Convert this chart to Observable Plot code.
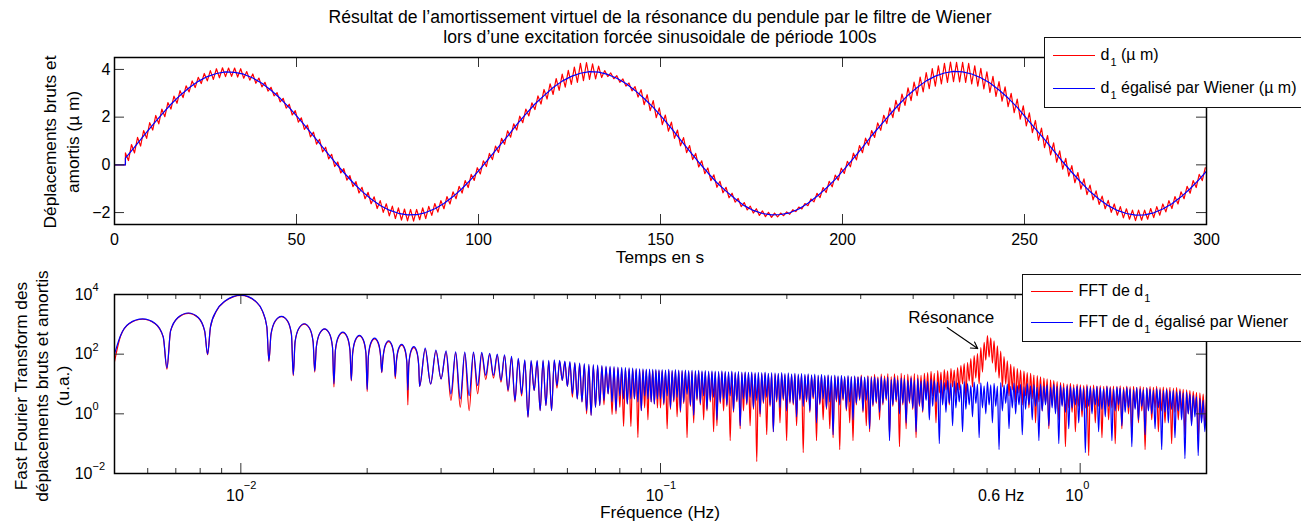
<!DOCTYPE html>
<html><head><meta charset="utf-8">
<script src="https://cdn.jsdelivr.net/npm/d3@7"></script>
<script src="https://cdn.jsdelivr.net/npm/@observablehq/plot@0.6"></script>
<style>
html,body{margin:0;padding:0;background:#fff;overflow:hidden;}
#wrap{position:relative;width:1301px;height:527px;overflow:hidden;font-family:"Liberation Sans",Arial,Helvetica,sans-serif;color:#000;font-size:17.3px;}
.abs{position:absolute;white-space:nowrap;line-height:16px;}
.title{font-size:17.6px;}
.legend{position:absolute;background:#fff;border:1.5px solid #111;box-sizing:border-box;width:440px;font-size:16px;}
.row{position:absolute;left:7.5px;display:flex;align-items:center;height:16px;line-height:16px;white-space:nowrap;}
.sample{width:42px;height:0;margin-right:6px;}
.sub{font-size:11px;position:relative;top:6px;margin-left:1px;}
</style></head>
<body><div id="wrap"></div>
<script>
// ---------------- Texts ----------------
const titleLines = ["Résultat de l’amortissement virtuel de la résonance du pendule par le filtre de Wiener",
                    "lors d’une excitation forcée sinusoidale de période 100s"];
const yLabelTop = ["Déplacements bruts et", "amortis (µ m)"];
const yLabelBottom = ["Fast Fourier Transform des", "déplacements bruts et amortis", "(u.a.)"];
const xLabelTop = "Temps en s";
const xLabelBottom = "Fréquence (Hz)";
const legendTop = [
  {base: "d", sub: "1", rest: " (µ m)", color: "#ff0000"},
  {base: "d", sub: "1", rest: " égalisé par Wiener (µ m)", color: "#0000ff"}
];
const legendBottom = [
  {base: "FFT de d", sub: "1", rest: "", color: "#ff0000"},
  {base: "FFT de d", sub: "1", rest: " égalisé par Wiener", color: "#0000ff"}
];

// ---------------- Top panel data (µm vs s) ----------------
const timeTicks = [0, 50, 100, 150, 200, 250, 300];
const dispTicks = [-2, 0, 2, 4];
const startTime = [0, 3];
const startValue = [0, 0];
const rawT0 = 3, rawDt = 5 / 6;        // raw trace read at each half ripple period
const wienerT0 = 3, wienerDt = 2.5;    // equalized trace read every 2.5 s
const d1Raw = [
0.50,0.18,0.85,0.50,1.15,0.79,1.44,1.11,1.77,1.46,
2.07,1.72,2.34,2.02,2.61,2.34,2.88,2.58,3.11,2.82,
3.31,3.06,3.52,3.24,3.67,3.41,3.83,3.52,3.95,3.58,
4.03,3.65,4.07,3.70,4.06,3.71,4.06,3.68,4.03,3.63,
3.91,3.55,3.81,3.42,3.64,3.27,3.46,3.09,3.25,2.89,
3.03,2.64,2.79,2.38,2.54,2.09,2.27,1.79,1.97,1.49,
1.67,1.17,1.37,0.87,1.07,0.54,0.74,0.25,0.44,-0.07,
0.12,-0.34,-0.16,-0.64,-0.45,-0.91,-0.70,-1.18,-0.94,-1.42,
-1.15,-1.63,-1.34,-1.83,-1.50,-1.99,-1.63,-2.14,-1.73,-2.25,
-1.80,-2.32,-1.85,-2.35,-1.87,-2.36,-1.87,-2.30,-1.80,-2.25,
-1.74,-2.12,-1.62,-1.98,-1.50,-1.84,-1.33,-1.64,-1.13,-1.42,
-0.90,-1.18,-0.66,-0.95,-0.40,-0.65,-0.12,-0.38,0.17,-0.07,
0.48,0.22,0.79,0.52,1.11,0.86,1.43,1.16,1.72,1.46,
2.04,1.77,2.34,2.05,2.60,2.32,2.89,2.55,3.16,2.76,
3.40,2.95,3.62,3.12,3.80,3.26,3.96,3.37,4.10,3.46,
4.25,3.53,4.29,3.58,4.23,3.60,4.14,3.66,3.95,3.70,
3.85,3.61,3.74,3.46,3.60,3.30,3.43,3.10,3.28,2.84,
3.15,2.52,2.94,2.27,2.69,1.98,2.39,1.69,2.09,1.41,
1.79,1.11,1.46,0.80,1.14,0.51,0.81,0.22,0.48,-0.09,
0.17,-0.37,-0.13,-0.66,-0.42,-0.94,-0.69,-1.17,-0.94,-1.38,
-1.19,-1.56,-1.41,-1.75,-1.58,-1.89,-1.73,-2.02,-1.84,-2.12,
-1.93,-2.17,-1.99,-2.20,-2.02,-2.18,-2.02,-2.13,-1.97,-2.07,
-1.88,-1.96,-1.77,-1.85,-1.62,-1.71,-1.43,-1.55,-1.19,-1.37,
-0.95,-1.16,-0.69,-0.92,-0.43,-0.64,-0.14,-0.36,0.15,-0.08,
0.49,0.21,0.81,0.51,1.12,0.82,1.44,1.15,1.76,1.45,
2.08,1.73,2.39,1.98,2.70,2.24,2.97,2.49,3.23,2.69,
3.47,2.90,3.68,3.06,3.87,3.19,4.03,3.30,4.15,3.39,
4.25,3.46,4.31,3.49,4.30,3.48,4.30,3.46,4.25,3.39,
4.15,3.30,4.05,3.18,3.90,3.04,3.71,2.87,3.49,2.67,
3.27,2.44,3.00,2.19,2.76,1.92,2.47,1.63,2.18,1.35,
1.86,1.03,1.54,0.72,1.23,0.42,0.92,0.11,0.59,-0.18,
0.27,-0.47,-0.03,-0.75,-0.32,-1.02,-0.59,-1.25,-0.85,-1.47,
-1.09,-1.66,-1.31,-1.84,-1.49,-1.99,-1.64,-2.11,-1.75,-2.22,
-1.84,-2.28,-1.90,-2.34,-1.90,-2.32,-1.90,-2.28,-1.83,-2.21,
-1.75,-2.11,-1.64,-1.97,-1.50,-1.83,-1.33,-1.64,-1.13,-1.42,
-0.90,-1.19,-0.66,-0.95,-0.40,-0.66,-0.12
];
const d1Wiener = [
0.28,0.74,1.21,1.68,2.12,2.54,2.91,3.23,3.50,3.70,3.83,3.90,3.88,3.80,3.64,3.42,3.13,2.79,2.40,1.97,
1.52,1.06,0.59,0.12,-0.32,-0.74,-1.11,-1.43,-1.70,-1.90,-2.03,-2.10,-2.09,-2.00,-1.84,-1.62,-1.33,-0.99,-0.60,-0.17,
0.29,0.75,1.20,1.69,2.13,2.55,2.90,3.24,3.51,3.71,3.84,3.91,3.89,3.79,3.63,3.41,3.12,2.78,2.41,1.98,
1.53,1.05,0.58,0.11,-0.33,-0.75,-1.10,-1.42,-1.71,-1.91,-2.04,-2.10,-2.08,-2.01,-1.85,-1.61,-1.32,-0.98,-0.61,-0.18,
0.27,0.73,1.22,1.67,2.11,2.53,2.92,3.24,3.52,3.72,3.85,3.92,3.90,3.81,3.65,3.43,3.14,2.80,2.41,1.96,
1.51,1.07,0.60,0.13,-0.31,-0.73,-1.12,-1.44,-1.71,-1.91,-2.04,-2.11,-2.10,-2.01,-1.85,-1.63,-1.34,-1.00,-0.61,-0.18
];

// ---------------- Bottom panel data (log10 of FFT magnitude) ----------------
const binHz = 1 / 600;           // spectral line spacing
const freqDecades = [0.01, 0.1, 1];
const freqDecadeExp = ["−2", "−1", "0"];
const freqMinor = [0.005,0.006,0.007,0.008,0.009,0.02,0.03,0.04,0.05,0.06,0.07,0.08,0.09,
                   0.2,0.3,0.4,0.5,0.6,0.7,0.8,0.9,2];
const fftDecades = [0.01, 1, 100, 10000];
const fftDecadeExp = ["−2", "0", "2", "4"];
// wide side lobes (position in spectral lines, log10 value)
const lowBins = [3,3.1,3.25,3.5,3.75,3.92,4, 4.08,4.25,4.5,4.75,4.92,5,
  5.08,5.25,5.5,5.75,6,6.25,6.5,6.75,6.92,7, 7.08,7.25,7.5,7.75,7.92,8,
  8.08,8.25,8.5,8.75,8.92,9, 9.08,9.25,9.5,9.75,9.92,10, 10.08,10.25,10.5,10.75,10.92,11,
  11.08,11.25,11.5,11.75,11.92,12, 12.08,12.25,12.5,12.75,12.92,13, 13.08,13.25,13.5,13.75,13.92,14,
  14.08,14.25,14.5,14.75,14.92,15, 15.08,15.25,15.5,15.75,15.92];
const lowWienerExp = [2.0,2.62,3.03,3.18,3.03,2.58,1.54, 2.78,3.23,3.38,3.23,2.78,2.0,
  2.92,3.46,3.78,3.93,3.98,3.93,3.78,3.46,2.92,1.78, 2.67,3.12,3.27,3.12,2.67,1.31,
  2.42,2.87,3.02,2.87,2.42,1.44, 2.25,2.70,2.85,2.70,2.25,1.01, 2.14,2.59,2.74,2.59,2.14,1.13,
  2.03,2.48,2.63,2.48,2.03,0.82, 1.94,2.39,2.54,2.39,1.94,1.40, 1.85,2.30,2.45,2.30,1.85,1.25,
  1.73,2.18,2.33,2.18,1.73,0.79, 1.65,2.10,2.25,2.10,1.65];
const lowRawExp = [1.75,2.60,3.02,3.17,3.02,2.57,1.50, 2.77,3.22,3.37,3.22,2.77,1.98,
  2.91,3.45,3.77,3.92,3.97,3.92,3.77,3.45,2.91,1.75, 2.66,3.11,3.26,3.11,2.66,1.28,
  2.41,2.86,3.01,2.86,2.41,1.40, 2.24,2.69,2.84,2.69,2.24,0.90, 2.12,2.57,2.72,2.57,2.12,1.10,
  2.01,2.46,2.61,2.46,2.01,0.75, 1.91,2.36,2.51,2.36,1.91,1.38, 1.82,2.27,2.42,2.27,1.82,1.18,
  1.70,2.15,2.30,2.15,1.70,0.30, 1.62,2.07,2.22,2.07,1.62];
// narrow lobes: dip at line k, peak at k + 1/2, k = 16..59
const lobeFirstLine = 16;
const lobeDipWienerExp = [0.92,1.00,1.17,0.67,0.50,0.61,0.95,1.29,1.29,1.12,0.80,0.45,0.67,-0.11,0.78,0.11,0.28,0.11,0.95,1.12,
  0.92,0.67,0.50,0.40,0.11,-0.05,0.22,0.28,0.45,0.67,0.40,0.11,0.60,0.50,0.33,0.50,0.50,0.40,0.11,0.60,0.50,0.40,0.33,0.50];
const lobeDipRawExp = [0.92,1.00,1.17,0.45,0.22,0.11,0.67,1.15,1.20,1.06,0.75,0.40,0.60,-0.11,0.78,0.11,0.28,0.11,0.86,1.12,
  0.92,0.56,0.50,0.40,0.00,-0.05,0.22,0.28,0.30,0.67,-0.02,0.00,0.22,-0.42,0.33,-0.42,0.50,-0.79,0.11,0.20,-0.20,0.40,0.33,0.20];
const lobePeakWienerExp = [2.20,2.14,2.11,2.08,2.07,2.07,2.06,2.03,2.00,1.98,1.93,1.86,1.81,1.79,1.79,1.80,1.79,1.81,1.79,1.77,
  1.75,1.72,1.70,1.68,1.66,1.65,1.63,1.62,1.60,1.59,1.58,1.57,1.56,1.55,1.54,1.53,1.52,1.51,1.51,1.50,1.50,1.49,1.49,1.48];
const lobePeakRawExp = [2.16,2.10,2.07,2.04,2.03,2.03,2.02,1.99,1.96,1.94,1.89,1.82,1.77,1.75,1.75,1.76,1.75,1.77,1.75,1.73,
  1.71,1.68,1.66,1.64,1.62,1.61,1.59,1.58,1.56,1.55,1.54,1.53,1.52,1.51,1.50,1.49,1.48,1.47,1.47,1.46,1.46,1.45,1.45,1.44];
// noisy part, 0.1 Hz .. 2 Hz, read on a log-spaced grid (alternating low / high)
const noiseStartHz = 0.1, noiseEndHz = 2;
const noiseWienerExp = [
0.50,1.48,0.35,1.47,0.60,1.49,0.20,1.46,0.45,1.48,0.55,1.47,0.10,1.46,0.40,1.47,0.65,1.45,0.30,1.46,
-0.05,1.45,0.50,1.46,0.35,1.44,0.60,1.45,0.15,1.43,0.45,1.44,0.55,1.43,-0.20,1.42,0.40,1.44,0.50,1.42,
0.30,1.41,0.60,1.43,0.10,1.40,0.45,1.42,-0.40,1.40,0.50,1.41,0.35,1.39,0.55,1.40,0.20,1.38,0.45,1.39,
0.00,1.38,0.40,1.40,0.55,1.36,0.30,1.38,-0.60,1.37,0.45,1.36,0.20,1.38,0.50,1.35,0.10,1.37,0.40,1.34,
0.35,1.36,-0.10,1.33,0.50,1.35,0.25,1.32,0.45,1.34,0.10,1.31,0.55,1.33,-0.30,1.30,0.35,1.32,0.50,1.29,
0.20,1.31,0.40,1.28,-0.70,1.30,0.45,1.27,0.30,1.29,0.50,1.26,0.15,1.28,0.40,1.25,-0.20,1.27,0.35,1.24,
0.50,1.26,0.10,1.23,0.45,1.25,-0.50,1.22,0.30,1.24,0.40,1.19,0.05,1.25,0.35,1.18,0.50,1.23,-0.90,1.15,
0.30,1.22,0.45,1.14,0.00,1.20,0.35,1.17,-0.30,1.12,0.40,1.21,0.20,1.13,-0.60,1.18,0.30,1.10,0.10,1.16,
0.45,1.09,-0.20,1.17,0.25,1.11,0.40,1.07,-1.00,1.14,0.30,1.05,0.05,1.12,0.35,1.02,-0.40,1.10,0.20,1.04,
0.40,0.98,-0.60,1.08,0.15,1.01,0.30,0.95,-0.10,1.06,0.35,0.99,-0.80,1.04,0.20,0.94,0.00,1.07,0.30,0.97,
-0.30,1.02,0.25,0.93,-1.20,1.05,0.10,0.96,0.35,1.00,-0.50,0.92,0.20,1.03,0.00,0.95,0.30,0.99,-0.70,0.91,
0.15,1.01,0.30,0.94,-0.20,0.98,0.25,0.90,-0.90,1.00,0.10,0.93,0.30,0.97,-0.40,0.89,0.20,0.99,0.00,0.92,
-1.00,0.96,0.25,0.88,0.05,0.95,-0.50,0.91,0.20,0.87,0.30,0.94,-0.30,0.90,0.10,0.86,-1.30,0.93,0.25,0.89,
0.00,0.85,0.30,0.92,-0.60,0.88,0.15,0.84,-0.10,0.91,0.25,0.87,-0.90,0.83,0.10,0.90,0.30,0.86,-0.40,0.82,
0.05,0.89,0.20,0.85,-1.10,0.81,0.15,0.88,-0.20,0.84,0.25,0.80,-0.70,0.87,0.10,0.83,0.00,0.79,-0.50,0.85,
0.20,0.81,-1.20,0.78,0.05,0.82,-0.30,0.76,0.15,0.79,-0.80,0.74,0.10,0.77,-0.20,0.70,-1.50,0.73,0.00,0.66,
-0.40,0.62,-0.10,0.58,-1.40,0.52,-0.30,0.45,-0.60,0.38
];
const noiseRawExp = [
0.20,1.44,0.30,1.43,-0.50,1.45,0.15,1.42,0.40,1.44,-0.10,1.43,0.05,1.42,0.35,1.43,-0.80,1.41,0.25,1.42,
-0.30,1.41,0.45,1.42,0.30,1.40,-0.20,1.41,0.10,1.39,0.40,1.40,-0.60,1.39,-0.40,1.38,0.35,1.40,0.10,1.38,
0.25,1.37,-0.90,1.39,0.05,1.36,0.40,1.38,-0.50,1.36,0.10,1.37,0.30,1.35,-0.40,1.36,0.15,1.34,-1.60,1.35,
-0.10,1.34,0.35,1.36,-0.70,1.32,0.25,1.34,-0.60,1.33,0.40,1.32,-0.30,1.34,0.45,1.31,-0.90,1.33,0.35,1.30,
0.30,1.32,-0.40,1.29,0.45,1.31,-1.30,1.28,0.40,1.30,0.05,1.27,0.50,1.29,-0.90,1.26,0.30,1.28,-0.20,1.25,
0.15,1.27,-0.50,1.24,-0.80,1.26,0.40,1.23,-1.20,1.25,0.45,1.22,0.10,1.24,-0.30,1.23,-0.90,1.25,0.30,1.24,
0.45,1.30,0.05,1.22,-0.40,1.28,-0.60,1.26,0.25,1.32,0.35,1.24,-0.20,1.33,0.30,1.27,0.45,1.35,-0.70,1.25,
0.25,1.34,0.40,1.28,-1.10,1.36,0.30,1.30,-0.50,1.33,0.35,1.27,0.15,1.35,-0.80,1.31,0.25,1.29,0.05,1.36,
0.50,1.38,0.20,1.42,0.60,1.36,-0.30,1.45,0.70,1.40,0.40,1.48,0.80,1.44,0.30,1.52,0.90,1.47,0.60,1.55,
0.80,1.62,1.00,1.68,0.50,1.72,1.10,1.85,0.90,1.95,1.20,2.02,1.00,2.22,1.40,2.40,1.80,2.62,1.90,2.55,
1.70,2.45,1.40,2.28,1.20,2.10,0.90,1.92,1.00,1.78,0.60,1.66,0.80,1.58,0.40,1.52,0.70,1.47,0.30,1.43,
0.60,1.38,0.20,1.36,0.50,1.30,-0.30,1.28,0.40,1.24,0.10,1.20,0.35,1.17,-0.50,1.14,0.30,1.11,0.10,1.08,
-0.20,1.05,0.30,1.03,-1.10,1.00,0.20,1.02,0.05,0.98,-0.60,1.00,0.25,0.97,-0.10,0.95,0.20,0.98,-1.40,0.94,
0.10,0.96,-0.30,0.93,0.25,0.95,-0.80,0.92,0.15,0.94,-0.20,0.91,0.20,0.93,-1.00,0.92,0.10,0.94,-0.50,0.90,
0.25,0.93,0.00,0.91,-0.70,0.92,0.20,0.89,-0.30,0.92,0.10,0.90,-1.20,0.88,0.15,0.91,-0.20,0.89,0.20,0.92,
-0.60,0.88,0.10,0.90,-0.30,0.87,0.15,0.89,-1.00,0.86,0.05,0.88,-0.20,0.84,0.10,0.82,-0.70,0.80,0.00,0.78,
-0.30,0.75,0.05,0.72,-0.90,0.70,-0.20,0.66,-0.40,0.62
];
// annotations
const annotLabel = ["Résonance"];
const annotTextHz = [0.493], annotTextValue = [1660];
const annotTailHz = [0.482], annotTailValue = [780];
const annotHeadHz = [0.570], annotHeadValue = [154];
const markerHz = [0.6];
const markerLabel = ["0.6 Hz"];

// ---------------- Build tables ----------------
const rawRows = startTime.map((t, i) => ({t, v: startValue[i]}))
  .concat(d1Raw.map((v, j) => ({t: rawT0 + j * rawDt, v})));
const wienerRows = startTime.map((t, i) => ({t, v: startValue[i]}))
  .concat(d1Wiener.map((v, j) => ({t: wienerT0 + j * wienerDt, v})));

function spectrum(lowExp, dipExp, peakExp, noiseExp) {
  const rows = [];
  lowBins.forEach((b, i) => rows.push({f: b * binHz, v: 10 ** lowExp[i]}));
  dipExp.forEach((d, i) => {
    const k = lobeFirstLine + i;
    rows.push({f: k * binHz, v: 10 ** d});
    rows.push({f: (k + 0.5) * binHz, v: 10 ** peakExp[i]});
  });
  const n = noiseExp.length;
  noiseExp.forEach((e, i) => rows.push({f: noiseStartHz * (noiseEndHz / noiseStartHz) ** (i / (n - 1)), v: 10 ** e}));
  return rows;
}
const rawSpec = spectrum(lowRawExp, lobeDipRawExp, lobePeakRawExp, noiseRawExp);
const wienerSpec = spectrum(lowWienerExp, lobeDipWienerExp, lobePeakWienerExp, noiseWienerExp);

// ---------------- Layout ----------------
const font = '"Liberation Sans", Arial, Helvetica, sans-serif';
const W = 1301, mL = 114, mR = 95;
const innerW = W - mL - mR;
const topH = 270, topMT = 57, topMB = 46, topInnerH = topH - topMT - topMB;
const botH = 257, botMT = 24, botMB = 54, botInnerH = botH - botMT - botMB;
const tickColor = "#333", majorLen = 10, minorLen = 5, fs = 16, lw = 1.2;
const wrap = document.getElementById("wrap");

const topPlot = Plot.plot({
  width: W, height: topH, marginTop: topMT, marginBottom: topMB, marginLeft: mL, marginRight: mR,
  style: {fontFamily: font, background: "transparent", overflow: "visible"},
  x: {domain: [0, 300], axis: null},
  y: {domain: [-2.5, 4.5], axis: null},
  marks: [
    Plot.line(rawRows, {x: "t", y: "v", stroke: "#ff0000", strokeWidth: lw, clip: true}),
    Plot.line(wienerRows, {x: "t", y: "v", stroke: "#0000ff", strokeWidth: lw, clip: true}),
    Plot.tickX(timeTicks, {x: d => d, insetTop: topInnerH - majorLen, stroke: tickColor}),
    Plot.tickX(timeTicks, {x: d => d, insetBottom: topInnerH - majorLen, stroke: tickColor}),
    Plot.tickY(dispTicks, {y: d => d, insetRight: innerW - majorLen, stroke: tickColor}),
    Plot.tickY(dispTicks, {y: d => d, insetLeft: innerW - majorLen, stroke: tickColor}),
    Plot.text(timeTicks, {x: d => d, frameAnchor: "bottom", lineAnchor: "top", dy: 9.5, text: d => String(d), fontSize: fs}),
    Plot.text(dispTicks, {y: d => d, frameAnchor: "left", textAnchor: "end", dx: -4, text: d => (d < 0 ? "−" + (-d) : String(d)), fontSize: fs}),
    Plot.frame({stroke: "#000", strokeWidth: 1.5})
  ]
});

const botPlot = Plot.plot({
  width: W, height: botH, marginTop: botMT, marginBottom: botMB, marginLeft: mL, marginRight: mR,
  style: {fontFamily: font, background: "transparent", overflow: "visible"},
  x: {type: "log", domain: [0.005, 2], axis: null},
  y: {type: "log", domain: [0.01, 10000], axis: null},
  marks: [
    Plot.line(rawSpec, {x: "f", y: "v", stroke: "#ff0000", strokeWidth: lw, curve: "monotone-x", clip: true}),
    Plot.line(wienerSpec, {x: "f", y: "v", stroke: "#0000ff", strokeWidth: lw, curve: "monotone-x", clip: true}),
    Plot.tickX(freqDecades, {x: d => d, insetTop: botInnerH - majorLen, stroke: tickColor}),
    Plot.tickX(freqDecades, {x: d => d, insetBottom: botInnerH - majorLen, stroke: tickColor}),
    Plot.tickX(freqMinor, {x: d => d, insetTop: botInnerH - minorLen, stroke: tickColor}),
    Plot.tickX(freqMinor, {x: d => d, insetBottom: botInnerH - minorLen, stroke: tickColor}),
    Plot.tickY(fftDecades, {y: d => d, insetRight: innerW - majorLen, stroke: tickColor}),
    Plot.tickY(fftDecades, {y: d => d, insetLeft: innerW - majorLen, stroke: tickColor}),
    Plot.text(freqDecades, {x: d => d, frameAnchor: "bottom", lineAnchor: "top", textAnchor: "end", dx: 3, dy: 16, text: () => "10", fontSize: fs}),
    Plot.text(freqDecades, {x: d => d, frameAnchor: "bottom", lineAnchor: "top", textAnchor: "start", dx: 3, dy: 8, text: (d, i) => freqDecadeExp[i], fontSize: 11}),
    Plot.text(fftDecades, {y: d => d, frameAnchor: "left", textAnchor: "end", dx: -22, text: () => "10", fontSize: fs}),
    Plot.text(fftDecades, {y: d => d, frameAnchor: "left", textAnchor: "start", dx: -22, dy: -7, text: (d, i) => fftDecadeExp[i], fontSize: 11}),
    Plot.text(markerHz, {x: d => d, frameAnchor: "bottom", lineAnchor: "top", dx: 14, dy: 16, text: (d, i) => markerLabel[i], fontSize: fs}),
    Plot.arrow(annotLabel, {x1: (d, i) => annotTailHz[i], y1: (d, i) => annotTailValue[i],
      x2: (d, i) => annotHeadHz[i], y2: (d, i) => annotHeadValue[i], stroke: "#000", strokeWidth: 1.1, headLength: 10}),
    Plot.text(annotLabel, {x: (d, i) => annotTextHz[i], y: (d, i) => annotTextValue[i], text: d => d, fontSize: 17}),
    Plot.frame({stroke: "#000", strokeWidth: 1.5})
  ]
});

function put(el, css) { Object.assign(el.style, css); wrap.appendChild(el); return el; }
put(topPlot, {position: "absolute", left: "0px", top: "0px"});
put(botPlot, {position: "absolute", left: "0px", top: topH + "px"});

const plotCenter = mL + innerW / 2;
function textDiv(txt, css, cls) { const d = document.createElement("div"); d.className = "abs" + (cls ? " " + cls : ""); d.textContent = txt; return put(d, css); }
titleLines.forEach((t, i) => textDiv(t, {left: plotCenter + "px", top: (9.2 + i * 19.4) + "px", transform: "translateX(-50%)"}, "title"));
textDiv(xLabelTop, {left: plotCenter + "px", top: "248.6px", transform: "translateX(-50%)"});
textDiv(xLabelBottom, {left: plotCenter + "px", top: "504px", transform: "translateX(-50%)"});

function yLabel(lines, cx, cy, lh) {
  const d = document.createElement("div");
  d.className = "abs";
  lines.forEach(l => { const s = document.createElement("div"); s.textContent = l; d.appendChild(s); });
  return put(d, {left: cx + "px", top: cy + "px", lineHeight: lh + "px", textAlign: "center",
    transform: "translate(-50%,-50%) rotate(-90deg)"});
}
yLabel(yLabelTop, 61.5, 142, 23);
yLabel(yLabelBottom, 41.5, 386, 21);

function legend(items, left, top, height, rowTops) {
  const box = document.createElement("div");
  box.className = "legend";
  items.forEach((it, i) => {
    const row = document.createElement("div");
    row.className = "row";
    row.style.top = rowTops[i] + "px";
    const s = document.createElement("div");
    s.className = "sample";
    s.style.borderTop = "1.3px solid " + it.color;
    row.appendChild(s);
    const t = document.createElement("span");
    t.appendChild(document.createTextNode(it.base));
    const sub = document.createElement("span");
    sub.className = "sub";
    sub.textContent = it.sub;
    t.appendChild(sub);
    t.appendChild(document.createTextNode(it.rest));
    row.appendChild(t);
    box.appendChild(row);
  });
  return put(box, {left: left + "px", top: top + "px", height: height + "px"});
}
legend(legendTop, 1044, 37, 71, [9.5, 42.5]);
legend(legendBottom, 1022, 274, 68, [8, 39]);
</script>
</body></html>
